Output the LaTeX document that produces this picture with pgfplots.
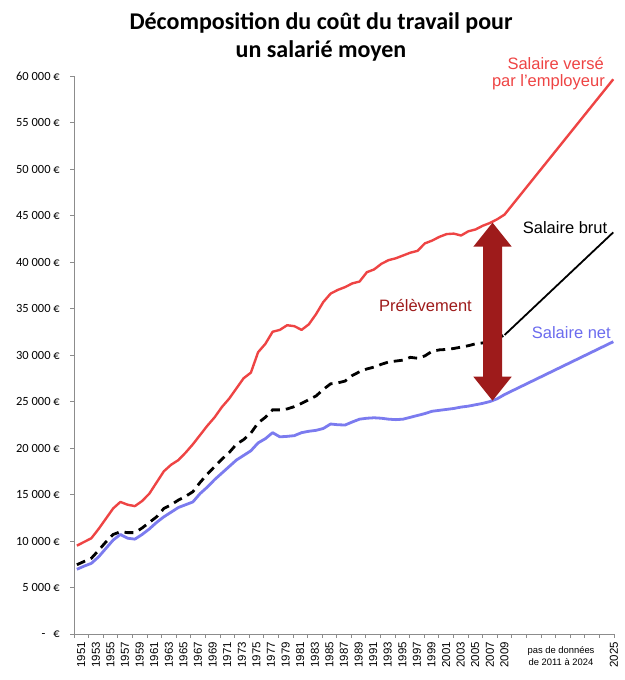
\documentclass[border=0pt]{standalone}
\usepackage{pgfplots}
\pgfplotsset{compat=1.18}
\usepackage{fontspec}
\setmainfont{Liberation Sans}
\newfontfamily\carlito{Carlito}
\definecolor{redl}{HTML}{EE4444}
\definecolor{bluel}{HTML}{7B7BEF}
\definecolor{arrowc}{HTML}{9E1B1B}
\definecolor{axisg}{HTML}{8C8C8C}
\definecolor{netc}{HTML}{6B6BEE}

\pgfplotstableread{
year val
1951 9500
1952 9900
1953 10300
1954 11300
1955 12400
1956 13500
1957 14200
1958 13900
1959 13750
1960 14300
1961 15100
1962 16300
1963 17500
1964 18200
1965 18700
1966 19500
1967 20400
1968 21400
1969 22400
1970 23300
1971 24400
1972 25300
1973 26400
1974 27500
1975 28100
1976 30300
1977 31200
1978 32500
1979 32700
1980 33200
1981 33100
1982 32700
1983 33300
1984 34400
1985 35700
1986 36600
1987 37000
1988 37300
1989 37700
1990 37900
1991 38900
1992 39200
1993 39800
1994 40200
1995 40400
1996 40700
1997 41000
1998 41200
1999 42000
2000 42300
2001 42700
2002 43000
2003 43050
2004 42850
2005 43300
2006 43500
2007 43900
2008 44200
2009 44600
2010 45100
2025 59650
}\employeur

\pgfplotstableread{
year val
1951 7450
1952 7800
1953 8150
1954 9000
1955 9900
1956 10700
1957 11000
1958 10900
1959 10900
1960 11400
1961 12000
1962 12600
1963 13500
1964 13900
1965 14400
1966 14800
1967 15300
1968 16300
1969 17200
1970 18000
1971 18800
1972 19500
1973 20400
1974 20900
1975 21600
1976 22700
1977 23300
1978 24100
1979 24100
1980 24200
1981 24450
1982 24800
1983 25200
1984 25600
1985 26300
1986 26900
1987 27000
1988 27200
1989 27800
1990 28200
1991 28500
1992 28700
1993 29000
1994 29250
1995 29350
1996 29450
1997 29750
1998 29650
1999 29900
2000 30400
2001 30550
2002 30600
2003 30700
2004 30850
2005 31000
2006 31200
2007 31300
2008 31500
2009 31800
2010 32150
}\brut

\pgfplotstableread{
year val
2010 32150
2025 43190
}\brutfin

\pgfplotstableread{
year val
1951 6960
1952 7300
1953 7600
1954 8300
1955 9200
1956 10100
1957 10700
1958 10300
1959 10200
1960 10700
1961 11300
1962 12000
1963 12600
1964 13100
1965 13600
1966 13900
1967 14200
1968 15100
1969 15800
1970 16600
1971 17300
1972 18000
1973 18700
1974 19200
1975 19700
1976 20550
1977 21000
1978 21650
1979 21200
1980 21250
1981 21330
1982 21650
1983 21800
1984 21900
1985 22100
1986 22580
1987 22500
1988 22470
1989 22800
1990 23100
1991 23200
1992 23250
1993 23200
1994 23100
1995 23050
1996 23100
1997 23300
1998 23500
1999 23700
2000 23950
2001 24050
2002 24150
2003 24250
2004 24400
2005 24500
2006 24650
2007 24800
2008 25000
2009 25300
2010 25750
2025 31430
}\net

\begin{document}
\begin{tikzpicture}[x=1pt,y=1pt]
\useasboundingbox (0,0) rectangle (624,680);
\begin{axis}[
  at={(74pt,46pt)}, anchor=south west,
  scale only axis, width=540pt, height=558pt,
  xmin=1950.6, xmax=2025.1, ymin=0, ymax=60000,
  clip=false,
  scaled y ticks=false,
  axis x line=bottom, axis y line=left,
  axis line style={draw=axisg, line width=0.8pt},
  every outer x axis line/.append style={-},
  every outer y axis line/.append style={-},
  x axis line style={-}, y axis line style={-},
  tick align=outside,
  major tick length=4pt,
  tick style={draw=axisg, line width=0.8pt},
  xtick={1950.6,1952.61,1954.63,1956.64,1958.65,1960.67,1962.68,1964.69,1966.71,1968.72,1970.74,1972.75,1974.76,1976.78,1978.79,1980.80,1982.82,1984.83,1986.84,1988.86,1990.87,1992.88,1994.90,1996.91,1998.92,2000.94,2002.95,2004.96,2006.98,2008.99,2011.01,2013.02,2015.03,2017.05,2019.06,2021.07,2023.09,2025.10},
  xticklabels={},
  extra x ticks={1951.6,1953.61,1955.63,1957.64,1959.65,1961.67,1963.68,1965.69,1967.71,1969.72,1971.74,1973.75,1975.76,1977.78,1979.79,1981.80,1983.82,1985.83,1987.84,1989.86,1991.87,1993.88,1995.90,1997.91,1999.92,2001.94,2003.95,2005.96,2007.98,2009.99,2025.1},
  extra x tick labels={1951,1953,1955,1957,1959,1961,1963,1965,1967,1969,1971,1973,1975,1977,1979,1981,1983,1985,1987,1989,1991,1993,1995,1997,1999,2001,2003,2005,2007,2009,2025},
  extra x tick style={major tick length=0pt},
  xticklabel style={yshift=-8pt, rotate=90, anchor=east, inner sep=0pt, font=\fontsize{11.5}{12}\selectfont},
  ytick={0,5000,10000,15000,20000,25000,30000,35000,40000,45000,50000,55000,60000},
  yticklabels={{-\hspace{8pt}€},{5 000 €},{10 000 €},{15 000 €},{20 000 €},{25 000 €},{30 000 €},{35 000 €},{40 000 €},{45 000 €},{50 000 €},{55 000 €},{60 000 €}},
  yticklabel style={anchor=east, inner sep=0pt, xshift=-10pt, font=\carlito\fontsize{12.5}{14}\selectfont},
]
\addplot[bluel, line width=2.8pt, line join=round] table[x=year,y=val] {\net};
\addplot[black, line width=2.8pt, dash pattern=on 9pt off 6pt] table[x=year,y=val] {\brut};
\addplot[black, line width=1.8pt] table[x=year,y=val] {\brutfin};
\addplot[redl, line width=2.4pt, line join=round] table[x=year,y=val] {\employeur};
\coordinate (T) at (axis cs:2008.34,44230);
\coordinate (B) at (axis cs:2008.34,25090);
\end{axis}
\fill[arrowc] (T) -- ([xshift=19.2pt,yshift=-24pt]T) -- ([xshift=9.5pt,yshift=-24pt]T)
  -- ([xshift=9.5pt,yshift=24pt]B) -- ([xshift=19.2pt,yshift=24pt]B) -- (B)
  -- ([xshift=-19.2pt,yshift=24pt]B) -- ([xshift=-9.5pt,yshift=24pt]B)
  -- ([xshift=-9.5pt,yshift=-24pt]T) -- ([xshift=-19.2pt,yshift=-24pt]T) -- cycle;
\node[anchor=base, inner sep=0pt, font=\carlito\bfseries\fontsize{24}{28}\selectfont] at (321,650.7) {Décomposition du coût du travail pour};
\node[anchor=base, inner sep=0pt, font=\carlito\bfseries\fontsize{24}{28}\selectfont] at (321,622.7) {un salarié moyen};
\node[anchor=base east, inner sep=0pt, text=redl, font=\fontsize{16.5}{19}\selectfont] at (604,610) {Salaire versé};
\node[anchor=base east, inner sep=0pt, text=redl, font=\fontsize{16.5}{19}\selectfont] at (605,593.3) {par l’employeur};
\node[anchor=base west, inner sep=0pt, text=black, font=\fontsize{16.5}{19}\selectfont] at (522.7,446.7) {Salaire brut};
\node[anchor=base west, inner sep=0pt, text=arrowc, font=\fontsize{16.5}{19}\selectfont] at (379,368.3) {Prélèvement};
\node[anchor=base west, inner sep=0pt, text=netc, font=\fontsize{16.5}{19}\selectfont] at (531.7,341.7) {Salaire net};
\node[anchor=base, inner sep=0pt, font=\fontsize{9.4}{11}\selectfont] at (561,26) {pas de données};
\node[anchor=base, inner sep=0pt, font=\fontsize{9.4}{11}\selectfont] at (561,14.3) {de 2011 à 2024};
\end{tikzpicture}
\end{document}
